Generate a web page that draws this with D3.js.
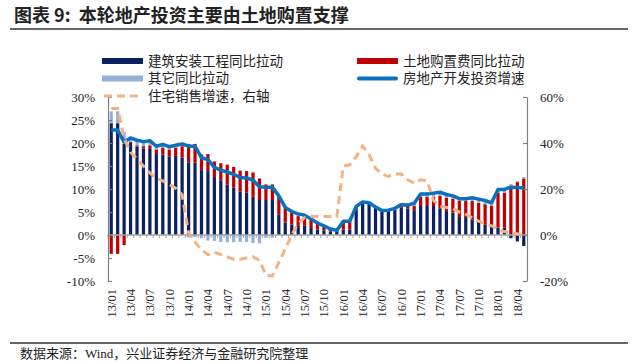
<!DOCTYPE html>
<html>
<head>
<meta charset="utf-8">
<script src="https://cdn.jsdelivr.net/npm/d3@7"></script>
<style>
    body { margin: 0; background: #fff; }
    svg { display: block; }
    text { font-family: "Liberation Serif", "Noto Sans CJK SC", serif; fill: #222; }
</style>
</head>
<body>
<svg id="chart" width="640" height="364"></svg>
<script>
// categories (month labels)
let months = [
    "13/01","13/02","13/03","13/04","13/05","13/06","13/07","13/08","13/09","13/10","13/11","13/12",
    "14/01","14/02","14/03","14/04","14/05","14/06","14/07","14/08","14/09","14/10","14/11","14/12",
    "15/01","15/02","15/03","15/04","15/05","15/06","15/07","15/08","15/09","15/10","15/11","15/12",
    "16/01","16/02","16/03","16/04","16/05","16/06","16/07","16/08","16/09","16/10","16/11","16/12",
    "17/01","17/02","17/03","17/04","17/05","17/06","17/07","17/08","17/09","17/10","17/11","17/12",
    "18/01","18/02","18/03","18/04","18/05"
];

// 建筑安装工程同比拉动 (%)
let construction = [
    24.3,24.3,19.8,20.0,19.2,18.8,18.7,17.6,17.5,17.0,17.2,16.8,
    15.8,15.8,14.1,13.9,12.6,11.9,11.0,10.3,9.4,9.2,8.3,7.6,
    7.6,7.6,4.5,2.7,2.3,2.0,2.0,1.5,1.2,1.0,0.8,0.7,
    1.2,1.2,5.6,7.0,6.8,5.9,5.1,5.2,5.4,5.9,5.8,5.4,
    6.3,6.3,6.3,5.8,5.2,4.9,4.1,3.9,3.4,2.9,2.3,2.0,
    1.6,1.6,-0.7,-1.4,-2.4
];

// 土地购置费同比拉动 (%)
let land = [
    -4.1,-4.1,-2.2,0.2,0.3,0.5,0.8,1.0,1.5,1.6,1.8,2.5,
    4.0,4.0,3.4,3.7,3.4,3.7,4.3,4.5,4.6,4.7,5.3,4.7,
    3.4,3.4,3.8,3.2,2.6,2.1,2.0,1.8,1.2,0.8,0.4,0.2,
    1.6,1.6,0.4,0.0,0.0,0.0,0.0,0.0,0.2,0.4,0.5,0.9,
    2.0,2.0,2.0,2.7,2.9,3.0,3.3,3.5,4.0,4.1,4.4,4.3,
    7.6,7.6,10.7,11.5,12.3
];

// 其它同比拉动 (%)
let other = [
    2.6,2.6,2.6,0.9,1.1,1.0,1.0,0.7,0.7,0.6,0.5,0.5,
    -0.5,-0.5,-0.7,-1.2,-1.3,-1.5,-1.6,-1.6,-1.5,-1.5,-1.7,-1.8,
    -0.6,-0.6,0.2,0.1,0.2,0.5,0.3,0.2,0.2,0.2,0.1,0.1,
    0.2,0.2,0.2,0.2,0.2,0.2,0.2,0.2,0.2,0.3,0.2,0.6,
    0.6,0.6,0.8,0.8,0.7,0.6,0.5,0.5,0.7,0.8,0.8,0.7,
    0.7,0.7,0.4,0.2,0.3
];

// 房地产开发投资增速 (%)
let investment = [
    22.8,22.8,20.2,21.1,20.6,20.3,20.5,19.3,19.7,19.2,19.5,19.8,
    19.3,19.3,16.8,16.4,14.7,14.1,13.7,13.2,12.5,12.4,11.9,10.5,
    10.4,10.4,8.5,6.0,5.1,4.6,4.3,3.5,2.6,2.0,1.3,1.0,
    3.0,3.0,6.2,7.2,7.0,6.1,5.3,5.4,5.8,6.6,6.5,6.9,
    8.9,8.9,9.1,9.3,8.8,8.5,7.9,7.9,8.1,7.8,7.5,7.0,
    9.9,9.9,10.4,10.3,10.2
];

// 住宅销售增速, right axis (%)
let residential = [
    55,55,42,36,33,30,27,24.6,23.5,22,20.3,17.5,
    1,-3,-6.5,-8.5,-7.5,-8.5,-9.5,-10.5,-10.5,-10,-9.5,-11,
    -17.5,-17.8,-12,-6,0,5,7.5,8,8,8,8,8,
    30,30.5,34,38.7,35,29,26.5,25.5,26.5,26.5,24,22.5,
    24,23.5,15,12.5,12,11.5,10,9,7.5,6,5,4,
    2.5,1.5,1,0.5,0.2
];

let leftTicks = [-10, -5, 0, 5, 10, 15, 20, 25, 30];
let rightTicks = [-20, 0, 20, 40, 60];
let labelEvery = 3;

let seriesNames = ["建筑安装工程同比拉动", "土地购置费同比拉动", "其它同比拉动"];
let colors = ["#0b2161", "#c00000", "#95afd9"];
let lineColor = "#0a70c0",
    dashColor = "#f4b183";

let svg = d3.select("#chart");
let plotLeft = 108, plotRight = 527, plotTop = 97, plotBottom = 281;

// Title
svg.append("text")
    .attr("x", 14).attr("y", 22)
    .style("font-family", "'Noto Sans CJK SC', sans-serif")
    .style("font-weight", "bold")
    .style("font-size", "18px")
    .style("white-space", "pre")
    .text("图表 9:  本轮地产投资主要由土地购置支撑");
svg.append("line")
    .attr("x1", 10).attr("x2", 628).attr("y1", 29).attr("y2", 29)
    .attr("stroke", "#333").attr("stroke-width", 1.3);

// Scales
let x = d3.scaleBand()
    .domain(months)
    .range([plotLeft, plotRight])
    .paddingInner(0.5)
    .paddingOuter(0.25);
let y = d3.scaleLinear().domain([-10, 30]).range([plotBottom, plotTop]);
let y2 = d3.scaleLinear().domain([-20, 60]).range([plotBottom, plotTop]);

// Stacked bars
let table = months.map((m, i) => ({
    month: m, c: construction[i], l: land[i], o: other[i]
}));
let stack = d3.stack()
    .keys(["c", "l", "o"])
    .offset(d3.stackOffsetDiverging);
let layers = stack(table);

svg.append("g")
    .selectAll("g")
    .data(layers)
    .join("g")
    .attr("fill", (d, i) => colors[i])
    .selectAll("rect")
    .data(d => d)
    .join("rect")
    .attr("x", d => x(d.data.month))
    .attr("y", d => y(Math.max(d[0], d[1])))
    .attr("width", x.bandwidth())
    .attr("height", d => Math.abs(y(d[0]) - y(d[1])));

// Zero line with small ticks between bars
let zero = svg.append("g");
zero.append("line")
    .attr("x1", plotLeft).attr("x2", plotRight)
    .attr("y1", y(0)).attr("y2", y(0))
    .attr("stroke", "#a6a6a6").attr("stroke-width", 1.5);
zero.selectAll(".zt")
    .data(months)
    .join("line")
    .attr("class", "zt")
    .attr("x1", d => x(d) - x.step() * 0.25)
    .attr("x2", d => x(d) - x.step() * 0.25)
    .attr("y1", y(0)).attr("y2", y(0) + 3)
    .attr("stroke", "#a6a6a6").attr("stroke-width", 1);

// Axes
let yAxis = svg.append("g")
    .attr("transform", "translate(" + plotLeft + ",0)")
    .call(d3.axisLeft(y).tickValues(leftTicks).tickSize(-4).tickSizeOuter(0)
        .tickPadding(13).tickFormat(d => d + "%"));
let yAxis2 = svg.append("g")
    .attr("transform", "translate(" + plotRight + ",0)")
    .call(d3.axisRight(y2).tickValues(rightTicks).tickSize(-4).tickSizeOuter(0)
        .tickPadding(13).tickFormat(d => d + "%"));
[yAxis, yAxis2].forEach(a => {
    a.selectAll("path, line").attr("stroke", "#808080").attr("stroke-width", 1.2);
    a.selectAll("text")
        .style("font-family", "'Liberation Serif', serif")
        .style("font-size", "13px")
        .attr("fill", "#222");
});

// X labels
svg.append("g")
    .selectAll("text")
    .data(months.filter((m, i) => i % labelEvery === 0))
    .join("text")
    .attr("transform", d => "translate(" + (x(d) + x.bandwidth() / 2) + ",289) rotate(-90)")
    .attr("text-anchor", "end")
    .attr("dy", "0.35em")
    .style("font-size", "12.5px")
    .text(d => d);

// Lines
let investLine = d3.line()
    .x((d, i) => x(months[i]) + x.bandwidth() / 2)
    .y(d => y(d));
svg.append("path")
    .datum(investment)
    .attr("d", investLine)
    .attr("fill", "none")
    .attr("stroke", lineColor)
    .attr("stroke-width", 3.5)
    .attr("stroke-linejoin", "round");

let salesLine = d3.line()
    .x((d, i) => x(months[i]) + x.bandwidth() / 2)
    .y(d => y2(d));
svg.append("path")
    .datum(residential)
    .attr("d", salesLine)
    .attr("fill", "none")
    .attr("stroke", dashColor)
    .attr("stroke-width", 3)
    .attr("stroke-dasharray", "8,5");

// Legend
let legend = svg.append("g").style("font-size", "13.5px");
let items = [
    {name: seriesNames[0], type: "bar", color: colors[0], x: 102, y: 61},
    {name: seriesNames[1], type: "bar", color: colors[1], x: 357, y: 61},
    {name: seriesNames[2], type: "bar", color: colors[2], x: 102, y: 78.5},
    {name: "房地产开发投资增速", type: "line", color: lineColor, x: 357, y: 78.5},
    {name: "住宅销售增速，右轴", type: "dash", color: dashColor, x: 102, y: 96}
];
items.forEach(d => {
    if (d.type === "bar") {
        legend.append("rect")
            .attr("x", d.x).attr("y", d.y - 3)
            .attr("width", 41).attr("height", 6)
            .attr("fill", d.color);
    } else {
        legend.append("line")
            .attr("x1", d.x + 2).attr("x2", d.x + 39)
            .attr("y1", d.y).attr("y2", d.y)
            .attr("stroke", d.color)
            .attr("stroke-width", d.type === "line" ? 4 : 3)
            .attr("stroke-linecap", d.type === "line" ? "round" : "butt")
            .attr("stroke-dasharray", d.type === "dash" ? "8,5" : null);
    }
    legend.append("text")
        .attr("x", d.x + 46).attr("y", d.y)
        .attr("dy", "0.36em")
        .text(d.name);
});

// Footer
svg.append("line")
    .attr("x1", 10).attr("x2", 628).attr("y1", 343).attr("y2", 343)
    .attr("stroke", "#333").attr("stroke-width", 1.3);
svg.append("text")
    .attr("x", 20).attr("y", 358)
    .style("font-size", "13px")
    .text("数据来源：Wind，兴业证券经济与金融研究院整理");
</script>
</body>
</html>
